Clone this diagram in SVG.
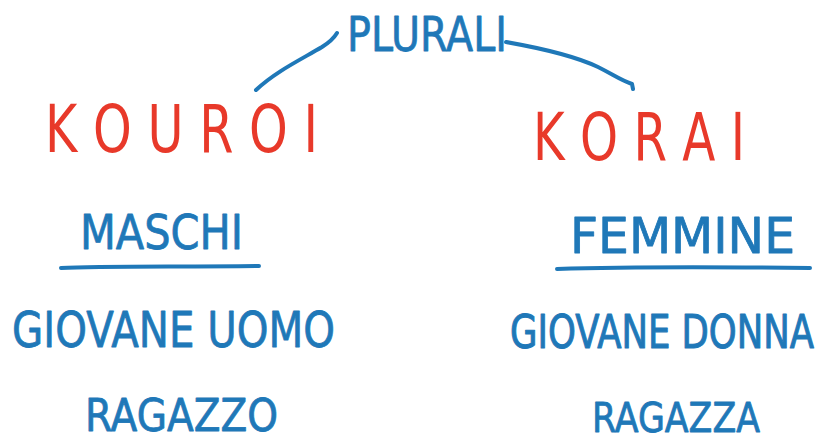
<svg xmlns="http://www.w3.org/2000/svg" width="832" height="444" viewBox="0 0 832 444">
<style>
text{font-family:"DejaVu Sans","Liberation Sans",sans-serif;font-weight:normal;stroke-linejoin:round;}
.b{fill:#1f78b8;stroke:#1f78b8;stroke-width:0.8;}
.r{fill:#e8392a;}
.ln{fill:none;stroke:#1f78b8;stroke-width:4;stroke-linecap:round;stroke-linejoin:round;}
</style>
<rect width="832" height="444" fill="#ffffff"/>
<g id="connectors">
<path class="ln" d="M256,90 C275,72 300,60 322,47 C330,42 334,38 337,33"/>
<path class="ln" d="M506,42 C540,48 575,56 598,67 C614,75 620,80 632,84 L633,89"/>
<path class="ln" d="M61,268 C100,266 180,267 259,266"/>
<path class="ln" d="M557,269 C620,267 720,267 810,268"/>
</g>
<g id="plurali"><text class="b" x="347" y="51" font-size="48" textLength="160" lengthAdjust="spacingAndGlyphs">PLURALI</text></g>
<g id="kouroi"><text class="r" x="45" y="152" font-size="66" textLength="273" lengthAdjust="spacingAndGlyphs">K O U R O I</text></g>
<g id="korai"><text class="r" x="533" y="160" font-size="66" textLength="212" lengthAdjust="spacingAndGlyphs">K O R A I</text></g>
<g id="maschi"><text class="b" x="80" y="249" font-size="48" textLength="163" lengthAdjust="spacingAndGlyphs">MASCHI</text></g>
<g id="femmine"><text class="b" x="570" y="253" font-size="49" textLength="225" lengthAdjust="spacingAndGlyphs">FEMMINE</text></g>
<g id="giovane-uomo"><text class="b" x="12" y="347" font-size="50" textLength="323" lengthAdjust="spacingAndGlyphs">GIOVANE UOMO</text></g>
<g id="giovane-donna"><text class="b" transform="translate(510,348) scale(1,1.35)" x="0" y="0" font-size="34" textLength="304" lengthAdjust="spacingAndGlyphs">GIOVANE DONNA</text></g>
<g id="ragazzo"><text class="b" x="85" y="431" font-size="44" textLength="193" lengthAdjust="spacingAndGlyphs">RAGAZZO</text></g>
<g id="ragazza"><text class="b" x="592" y="432" font-size="40" textLength="168" lengthAdjust="spacingAndGlyphs">RAGAZZA</text></g>
</svg>
